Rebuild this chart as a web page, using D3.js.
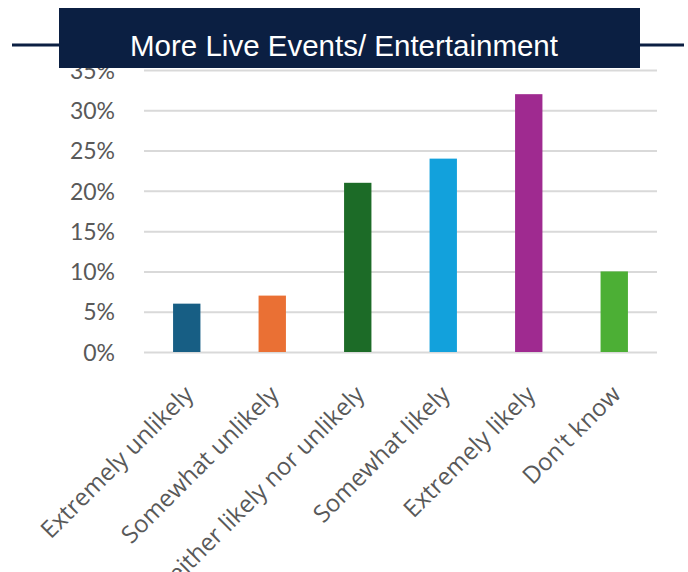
<!DOCTYPE html>
<html>
<head>
<meta charset="utf-8">
<script src="https://cdn.jsdelivr.net/npm/d3@7"></script>
<style>
  body { margin: 0; background: #fff; }
  .gridline line { stroke: #d9d9d9; stroke-width: 2px; }
  .gridline path { display: none; }
  .axis text { fill: #595959; font-family: Lato, sans-serif; }
  .x.axis text { font-family: "Open Sans", sans-serif; }
  .axis path, .axis line { display: none; }
</style>
</head>
<body>
<div class="chart"></div>
<script>
// data
const categories = ["Extremely unlikely", "Somewhat unlikely", "Neither likely nor unlikely",
                    "Somewhat likely", "Extremely likely", "Don't know"];
const values = [6, 7, 21, 24, 32, 10];
const barColors = ["#175e84", "#ea7034", "#1c6b27", "#12a1dc", "#9f2a90", "#4caf35"];
const yTicks = [0, 5, 10, 15, 20, 25, 30, 35];
const title = "More Live Events/ Entertainment";

const w = 688, h = 572;
const margin = { top: 70, left: 144, right: 31, bottom: 220 };
const width = w - margin.left - margin.right;
const height = h - margin.top - margin.bottom;

const svg = d3.select(".chart").append("svg")
  .attr("width", w)
  .attr("height", h);

const x = d3.scaleBand()
  .domain(categories)
  .range([0, width])
  .paddingInner(0.68)
  .paddingOuter(0.34);

const y = d3.scaleLinear()
  .domain([0, 35])
  .range([height, 0]);

const chart = svg.append("g")
  .attr("transform", "translate(" + margin.left + "," + margin.top + ")");

// gridlines
chart.append("g")
  .classed("gridline", true)
  .call(d3.axisLeft(y).tickValues(yTicks).tickSize(-width).tickFormat(""));

// y axis labels
chart.append("g")
  .classed("y axis", true)
  .attr("transform", "translate(-26,0)")
  .call(d3.axisLeft(y).tickValues(yTicks).tickSize(0).tickFormat(d => d + "%"))
  .selectAll("text")
    .style("font-size", "23px")
    .attr("dy", "0.36em");

// bars
chart.selectAll(".bar")
  .data(values)
  .enter()
  .append("rect")
    .classed("bar", true)
    .attr("x", (d, i) => x(categories[i]))
    .attr("y", d => y(d))
    .attr("width", x.bandwidth())
    .attr("height", d => height - y(d))
    .style("fill", (d, i) => barColors[i]);

// x axis labels, rotated
chart.append("g")
  .classed("x axis", true)
  .attr("transform", "translate(0," + height + ")")
  .call(d3.axisBottom(x).tickSize(0))
  .selectAll("text")
    .style("font-size", "24px")
    .style("text-anchor", "end")
    .attr("dx", 0)
    .attr("dy", "0.35em")
    .attr("y", 0)
    .attr("transform", "translate(2,38) rotate(-45)");

// title banner
svg.append("line")
  .attr("x1", 12).attr("x2", 684)
  .attr("y1", 45).attr("y2", 45)
  .style("stroke", "#0b1f42")
  .style("stroke-width", 3);

svg.append("rect")
  .attr("x", 59).attr("y", 8)
  .attr("width", 581).attr("height", 60)
  .style("fill", "#0b1f42");

svg.append("text")
  .attr("x", 344)
  .attr("y", 56)
  .style("text-anchor", "middle")
  .style("fill", "#fff")
  .style("font-family", "'Liberation Sans', Arial, sans-serif")
  .style("font-size", "29.5px")
  .text(title);
</script>
</body>
</html>
